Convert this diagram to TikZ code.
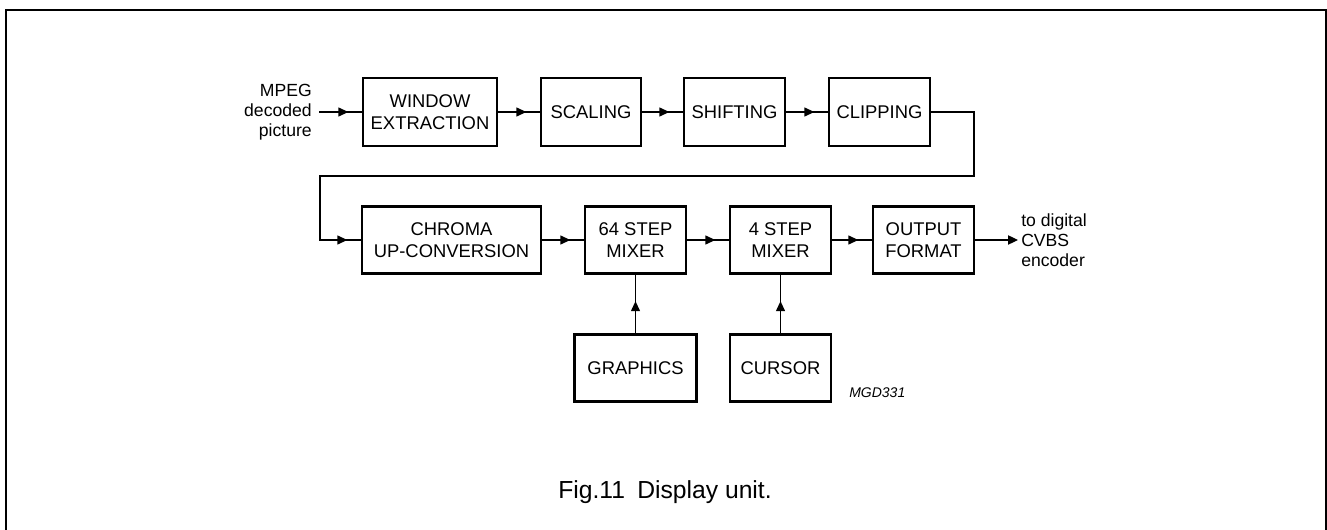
\documentclass[tikz,border=0pt]{standalone}
\usepackage{fontspec}
\setmainfont{Liberation Sans}
\usetikzlibrary{arrows.meta,decorations.markings}
\begin{document}
\begin{tikzpicture}[x=0.75pt,y=-0.75pt,
  blk/.style={draw,line width=2pt,align=center,inner sep=0pt,
    font=\fontsize{13.8}{16.5}\selectfont},
  lbl/.style={inner sep=0pt,font=\fontsize{13.2}{15}\selectfont},
  conn/.style={line width=0.9pt},
  tipmid/.style={conn,postaction={decorate},decoration={markings,
    mark=at position -10pt with {\fill (0pt,0pt) -- (-7.5pt,3.5pt) -- (-7.5pt,-3.5pt) -- cycle;}}},
  tipup/.style={conn,postaction={decorate},decoration={markings,
    mark=at position 24pt with {\fill (0pt,0pt) -- (-7.5pt,3.5pt) -- (-7.5pt,-3.5pt) -- cycle;}}},
  tipend/.style={conn,-{Triangle[length=7.5pt,width=7pt]}}]
\useasboundingbox (0,0) rectangle (1327,530);
% frame
\draw[line width=1.5pt] (5.5,532) -- (5.5,10) -- (1325.5,10) -- (1325.5,532);
% row 1
\node[blk,minimum width=134*0.75pt,minimum height=68*0.75pt] (win) at (430,112) {WINDOW\\EXTRACTION};
\node[blk,minimum width=100*0.75pt,minimum height=68*0.75pt] (scal) at (591,112) {SCALING};
\node[blk,minimum width=101*0.75pt,minimum height=68*0.75pt] (shift) at (734.5,112) {SHIFTING};
\node[blk,minimum width=101*0.75pt,minimum height=68*0.75pt] (clip) at (879.5,112) {CLIPPING};
% row 2
\node[blk,minimum width=179*0.75pt,minimum height=67*0.75pt] (chroma) at (451.5,240) {CHROMA\\UP-CONVERSION};
\node[blk,minimum width=101*0.75pt,minimum height=67*0.75pt] (mixa) at (635.5,240) {64 STEP\\MIXER};
\node[blk,minimum width=101*0.75pt,minimum height=67*0.75pt] (mixb) at (780.5,240) {4 STEP\\MIXER};
\node[blk,minimum width=101*0.75pt,minimum height=67*0.75pt] (outf) at (923.5,240) {OUTPUT\\FORMAT};
% row 3
\node[blk,minimum width=122*0.75pt,minimum height=67*0.75pt] (gfx) at (635.5,368) {GRAPHICS};
\node[blk,minimum width=101*0.75pt,minimum height=67*0.75pt] (cur) at (780.5,368) {CURSOR};
% labels
\node[lbl,anchor=east,align=right] (inlbl) at (312,112) {MPEG\\decoded\\picture};
\node[lbl,anchor=west,align=left] (outlbl) at (1021,240) {to digital\\CVBS\\encoder};
\node[inner sep=0pt,anchor=base west,font=\fontsize{10.5}{12}\selectfont\itshape] (code) at (849,398) {MGD331};
\node[inner sep=0pt,anchor=base,font=\fontsize{18.5}{22}\selectfont] (cap) at (665,498) {Fig.11\enspace Display unit.};
% connectors
\coordinate (inpt) at (319,112);
\coordinate (outpt) at (1018,240);
\coordinate (fa) at (974,112);
\coordinate (fb) at (974,176);
\coordinate (fc) at (320,176);
\coordinate (fd) at (320,240);
\draw[tipmid] (inpt) -- (win.west);
\draw[tipmid] (win.east) -- (scal.west);
\draw[tipmid] (scal.east) -- (shift.west);
\draw[tipmid] (shift.east) -- (clip.west);
\draw[tipmid] (clip.east) -- (fa) -- (fb) -- (fc) -- (fd) -- (chroma.west);
\draw[tipmid] (chroma.east) -- (mixa.west);
\draw[tipmid] (mixa.east) -- (mixb.west);
\draw[tipmid] (mixb.east) -- (outf.west);
\draw[tipend] (outf.east) -- (outpt);
\draw[tipup] (gfx.north) -- (mixa.south);
\draw[tipup] (cur.north) -- (mixb.south);
\end{tikzpicture}
\end{document}
